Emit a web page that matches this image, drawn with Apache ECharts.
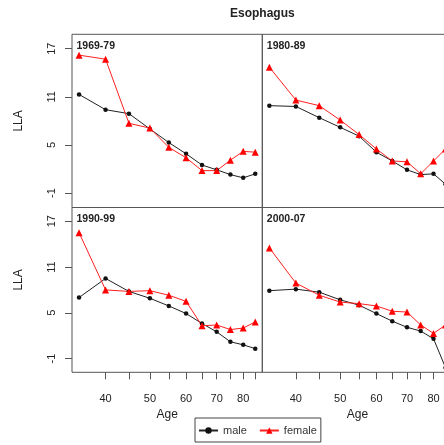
<!DOCTYPE html>
<html><head><meta charset="utf-8">
<script src="https://cdn.jsdelivr.net/npm/echarts@6/dist/echarts.min.js"></script>
<style>html,body{margin:0;padding:0;background:#fff}#c{width:444px;height:445px}</style>
</head><body><div id="c"></div>
<script>
const ages = [35, 40, 45, 50, 55, 60, 65, 70, 75, 80, 85];
const periods = ['1969-79', '1980-89', '1990-99', '2000-07'];
const male_1969_79   = [11.3, 9.4, 8.9, 7.0, 5.3, 3.9, 2.5, 1.9, 1.3, 0.9, 1.4];
const female_1969_79 = [16.2, 15.7, 7.7, 7.1, 4.7, 3.4, 1.8, 1.8, 3.1, 4.2, 4.1];
const male_1980_89   = [9.9, 9.8, 8.4, 7.2, 6.1, 4.1, 3.0, 1.9, 1.3, 1.4, 0.1];
const female_1980_89 = [14.7, 10.6, 9.9, 8.1, 6.3, 4.5, 3.0, 2.9, 1.4, 3.0, 4.5];
const male_1990_99   = [7.0, 9.5, 7.8, 6.9, 5.9, 4.9, 3.6, 2.5, 1.2, 0.8, 0.3];
const female_1990_99 = [15.5, 8.0, 7.8, 7.9, 7.3, 6.5, 3.3, 3.4, 2.8, 3.0, 3.8];
const male_2000_07   = [7.9, 8.1, 7.7, 6.7, 6.0, 4.9, 3.9, 3.1, 2.6, 1.6, -2.2];
const female_2000_07 = [13.5, 8.9, 7.3, 6.4, 6.2, 5.9, 5.2, 5.1, 3.4, 2.3, 3.4];
const yTickValues = [-1, 5, 11, 17];
const xTickAges = [40, 45, 50, 55, 60, 65, 70, 75, 80, 85];
const xLabelAges = [40, 50, 60, 70, 80];

const maleSets = [male_1969_79, male_1980_89, male_1990_99, male_2000_07];
const femaleSets = [female_1969_79, female_1980_89, female_1990_99, female_2000_07];

const FONT = 'Liberation Sans, Arial, sans-serif';
const LINE = '#555';
const ln = Math.log;
const xMin = ln(35) - 0.04 * (ln(85) - ln(35));
const xMax = ln(85) + 0.04 * (ln(85) - ln(35));

const grids = [
  {left: 72, top: 34.3, right: 181.7, height: 173.2},
  {left: 262.3, top: 34.3, right: -8.6, height: 173.2},
  {left: 72, top: 207.5, right: 181.7, height: 164.8},
  {left: 262.3, top: 207.5, right: -8.6, height: 164.8}
].map(g => Object.assign(g, {show: true, borderColor: LINE, borderWidth: 1, backgroundColor: 'transparent',
  containLabel: false, outerBoundsMode: 'none'}));

const xAxes = grids.map((g, i) => {
  const bottom = i >= 2;
  return {
    type: 'value', gridIndex: i, min: xMin, max: xMax, position: 'bottom',
    name: bottom ? 'Age' : '', nameLocation: 'middle', nameGap: 36,
    nameTextStyle: {fontFamily: FONT, fontSize: 12, color: '#222'},
    axisLine: {show: false, onZero: false},
    splitLine: {show: false},
    axisTick: {show: bottom, inside: false, length: 7, lineStyle: {color: LINE}, customValues: xTickAges.map(a => ln(a))},
    axisLabel: {show: bottom, margin: 21, fontFamily: FONT, fontSize: 11, color: '#222',
      customValues: xLabelAges.map(a => ln(a)), formatter: v => String(Math.round(Math.exp(v)))}
  };
});

const yAxes = grids.map((g, i) => {
  const left = i % 2 === 0;
  return {
    type: 'value', gridIndex: i, min: -2.8, max: 18.8, position: 'left',
    name: left ? 'LLA' : '', nameLocation: 'middle', nameGap: 47, nameRotate: 90,
    nameTextStyle: {fontFamily: FONT, fontSize: 12, color: '#222', padding: i === 2 ? [0, 0, 0, 20] : 0},
    axisLine: {show: false, onZero: false},
    splitLine: {show: false},
    axisTick: {show: left, length: 7, lineStyle: {color: LINE}, customValues: yTickValues},
    axisLabel: {show: left, rotate: 90, margin: 15, fontFamily: FONT, fontSize: 11, color: '#222',
      customValues: yTickValues}
  };
});

const series = [];
for (let i = 0; i < 4; i++) {
  series.push({
    name: 'male', type: 'line', xAxisIndex: i, yAxisIndex: i,
    data: ages.map((a, k) => [ln(a), maleSets[i][k]]),
    symbol: 'circle', symbolSize: 4.5, showAllSymbol: true,
    lineStyle: {color: '#222', width: 1}, itemStyle: {color: '#111'},
    emphasis: {disabled: true}, animation: false
  });
  series.push({
    name: 'female', type: 'line', xAxisIndex: i, yAxisIndex: i,
    data: ages.map((a, k) => [ln(a), femaleSets[i][k]]),
    symbol: 'triangle', symbolSize: 7, showAllSymbol: true,
    lineStyle: {color: '#ff2020', width: 1}, itemStyle: {color: '#ff0000'},
    emphasis: {disabled: true}, animation: false
  });
}

const titles = [{text: 'Esophagus', left: 230, top: 3, padding: [5, 0, 5, 0],
  textStyle: {fontFamily: FONT, fontSize: 12, fontWeight: 'bold', color: '#222'}}];
periods.forEach((p, i) => {
  titles.push({text: p, left: grids[i].left + 4.5, top: grids[i].top + 6,
    textStyle: {fontFamily: FONT, fontSize: 10.5, fontWeight: 'bold', color: '#222'}, padding: 0});
});

const chart = echarts.init(document.getElementById('c'), null, {renderer: 'canvas'});
chart.setOption({
  animation: false,
  backgroundColor: '#fff',
  title: titles,
  grid: grids,
  xAxis: xAxes,
  yAxis: yAxes,
  legend: {
    data: ['male', 'female'], left: 195, top: 418,
    borderColor: '#444', borderWidth: 1, padding: [7, 4, 6, 3],
    itemWidth: 19, itemHeight: 8, itemGap: 12,
    textStyle: {fontFamily: FONT, fontSize: 11, color: '#333'}
  },
  series: series
});
</script></body></html>
